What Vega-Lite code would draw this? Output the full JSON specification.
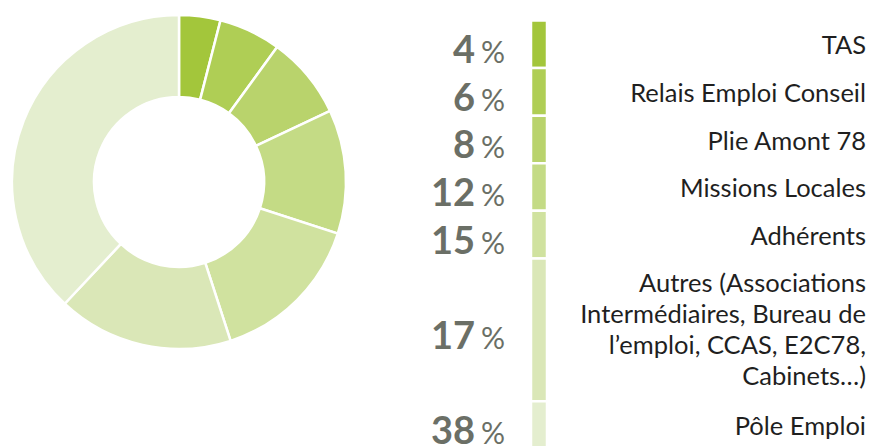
{
  "$schema": "https://vega.github.io/schema/vega-lite/v6.json",
  "padding": 0,
  "autosize": "pad",
  "spacing": 26,
  "background": "white",
  "config": {"view": {"stroke": null}, "font": "Lato"},
  "data": {"values": [
    {"rank": 1, "category": "TAS", "pct": 4},
    {"rank": 2, "category": "Relais Emploi Conseil", "pct": 6},
    {"rank": 3, "category": "Plie Amont 78", "pct": 8},
    {"rank": 4, "category": "Missions Locales", "pct": 12},
    {"rank": 5, "category": "Adhérents", "pct": 15},
    {"rank": 6, "category": "Autres (Associations\nIntermédiaires, Bureau de\nl’emploi, CCAS, E2C78,\nCabinets…)", "pct": 17},
    {"rank": 7, "category": "Pôle Emploi", "pct": 38}
  ]},
  "transform": [
    {"calculate": "test(/\\n/, datum.category) ? 3 : 1", "as": "slots"},
    {"stack": "slots", "groupby": [], "sort": [{"field": "rank"}], "as": ["y0", "y1"]},
    {"calculate": "(datum.y0 + datum.y1) / 2", "as": "ymid"}
  ],
  "hconcat": [
    {
      "width": 358,
      "height": 364,
      "mark": {"type": "arc", "innerRadius": 85, "outerRadius": 167, "stroke": "white", "strokeWidth": 2.5},
      "encoding": {
        "theta": {"field": "pct", "type": "quantitative", "stack": true},
        "order": {"field": "rank", "type": "quantitative"},
        "color": {"field": "category", "type": "nominal", "legend": null,
          "scale": {"domain": ["TAS", "Relais Emploi Conseil", "Plie Amont 78", "Missions Locales", "Adhérents", "Autres (Associations\nIntermédiaires, Bureau de\nl’emploi, CCAS, E2C78,\nCabinets…)", "Pôle Emploi"],
            "range": ["#a3c63b", "#afce55", "#b9d36c", "#c4db85", "#d0e29f", "#dae7b7", "#e4eecf"]}}
      }
    },
    {
      "width": 121,
      "height": 446,
      "layer": [
        {
          "mark": {"type": "text", "x": "width", "align": "right", "baseline": "alphabetic", "dx": -30, "dy": 19, "fontSize": 38, "fontWeight": "bold", "color": "#6b6f66"},
          "encoding": {
            "y": {"field": "ymid", "type": "quantitative", "axis": null, "scale": {"domain": [-0.43, 8.94], "reverse": true, "nice": false, "zero": false}},
            "text": {"field": "pct", "type": "quantitative"}
          }
        },
        {
          "mark": {"type": "text", "x": "width", "align": "right", "baseline": "alphabetic", "dy": 19, "fontSize": 30, "fontWeight": 400, "color": "#6b6f66", "text": "%"},
          "encoding": {
            "y": {"field": "ymid", "type": "quantitative", "axis": null, "scale": {"domain": [-0.43, 8.94], "reverse": true, "nice": false, "zero": false}}
          }
        }
      ]
    },
    {
      "width": 16,
      "height": 446,
      "mark": {"type": "rect", "stroke": "white", "strokeWidth": 2.5, "clip": true},
      "encoding": {
        "y": {"field": "y0", "type": "quantitative", "axis": null, "scale": {"domain": [-0.43, 8.94], "reverse": true, "nice": false, "zero": false}},
        "y2": {"field": "y1"},
        "color": {"field": "category", "type": "nominal", "legend": null,
          "scale": {"domain": ["TAS", "Relais Emploi Conseil", "Plie Amont 78", "Missions Locales", "Adhérents", "Autres (Associations\nIntermédiaires, Bureau de\nl’emploi, CCAS, E2C78,\nCabinets…)", "Pôle Emploi"],
            "range": ["#a3c63b", "#afce55", "#b9d36c", "#c4db85", "#d0e29f", "#dae7b7", "#e4eecf"]}}
      }
    },
    {
      "width": 293,
      "height": 446,
      "mark": {"type": "text", "x": "width", "align": "right", "baseline": "top", "dy": 14, "fontSize": 25.5, "fontWeight": 400, "color": "#1f1f1f", "lineBreak": "\n", "lineHeight": 31},
      "encoding": {
        "y": {"field": "y0", "type": "quantitative", "axis": null, "scale": {"domain": [-0.43, 8.94], "reverse": true, "nice": false, "zero": false}},
        "text": {"field": "category", "type": "nominal"}
      }
    }
  ]
}
